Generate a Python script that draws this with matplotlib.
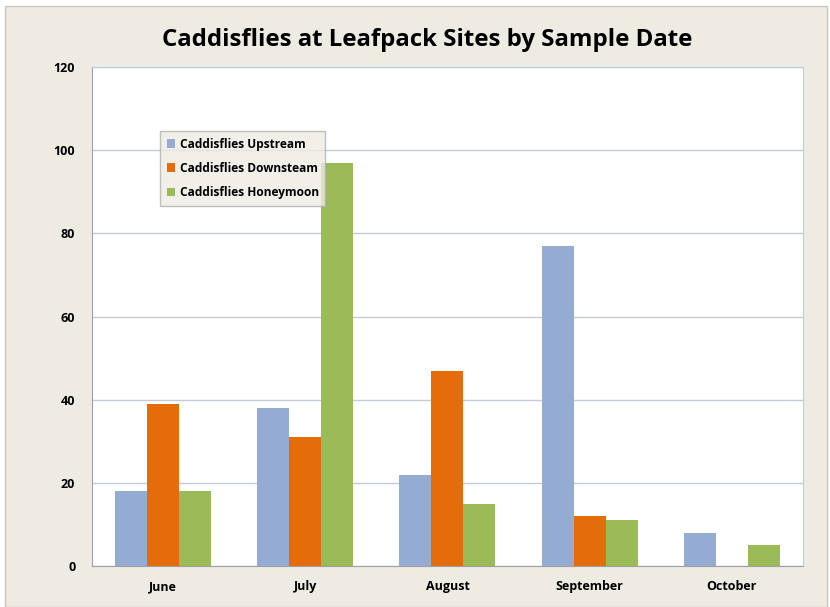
import numpy as np
import matplotlib.pyplot as plt
from matplotlib.patches import Rectangle

# data
months = ["June", "July", "August", "September", "October"]
upstream = [18, 38, 22, 77, 8]
downstream = [39, 31, 47, 12, 0]
honeymoon = [18, 97, 15, 11, 5]
series_names = ["Caddisflies Upstream", "Caddisflies Downsteam", "Caddisflies Honeymoon"]
colors = ["#94ABD4", "#E46C0A", "#9BBB59"]

plt.rcParams['font.family'] = ['Open Sans', 'DejaVu Sans']

fig = plt.figure(figsize=(8.3, 6.07), dpi=100)
fig.patch.set_facecolor("white")
# beige chart area with thin border
fig.patches.append(Rectangle((0.006, 0.0), 0.99, 0.99, transform=fig.transFigure,
                             facecolor="#EEEBE3", edgecolor="#C9C6BF", linewidth=1, zorder=-1))

ax = fig.add_axes([0.1108, 0.0675, 0.8566, 0.822])
ax.set_facecolor("white")

x = np.arange(len(months))
w = 0.225
for i, (vals, name, c) in enumerate(zip([upstream, downstream, honeymoon], series_names, colors)):
    ax.bar(x + (i - 1) * w, vals, width=w, color=c, label=name, zorder=2)

ax.set_xlim(-0.5, len(months) - 0.5)
ax.set_ylim(0, 120)
ax.set_yticks(range(0, 121, 20))
ax.yaxis.grid(True, color="#C5CBD3", linewidth=1, zorder=0)
ax.set_xticks(x)
ax.set_xticklabels(months, fontsize=9, fontweight="bold")
for lab in ax.get_yticklabels():
    lab.set_fontsize(9)
    lab.set_fontweight("bold")
ax.tick_params(axis="both", length=0, pad=10)
ax.tick_params(axis="y", pad=12)

for side in ["top", "right"]:
    ax.spines[side].set_color("#BCCDE0")
ax.spines["left"].set_color("#A0A0A0")
ax.spines["bottom"].set_color("#A0A0A0")

fig.text(0.515, 0.934, "Caddisflies at Leafpack Sites by Sample Date",
         ha="center", va="center", fontsize=17.3, fontweight="bold")

leg = ax.legend(loc="upper left", bbox_to_anchor=(0.0956, 0.872), borderaxespad=0,
                fontsize=8.6, frameon=True, fancybox=False, handlelength=0.7,
                handleheight=0.7, handletextpad=0.4, labelspacing=0.95, borderpad=0.55)
leg.get_frame().set_facecolor("#EEEBE3")
leg.get_frame().set_edgecolor("#B0B0B0")
for t in leg.get_texts():
    t.set_fontweight("bold")

fig.savefig("out.png", dpi=100)
